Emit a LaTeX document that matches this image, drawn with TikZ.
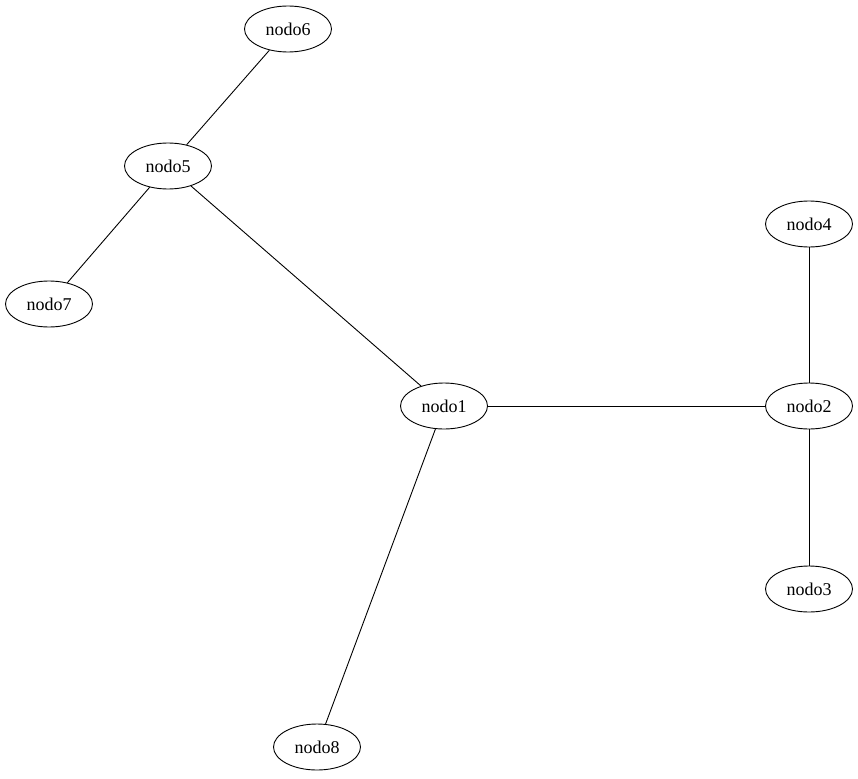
\documentclass[tikz,border=0pt]{standalone}
\usepackage{fontspec}
\setmainfont{Liberation Serif}
\usetikzlibrary{shapes.geometric}
\begin{document}
\begin{tikzpicture}[x=1pt,y=-1pt,
  nd/.style={ellipse,draw,line width=0.9pt,minimum width=87pt,minimum height=46pt,inner sep=0pt,font=\fontsize{18}{20}\selectfont},
  ed/.style={line width=0.9pt}]
\useasboundingbox (0,0) rectangle (858,778);
\node[nd] (n6) at (288,29) {nodo6};
\node[nd] (n5) at (168,166) {nodo5};
\node[nd] (n7) at (49,304) {nodo7};
\node[nd] (n1) at (444,406) {nodo1};
\node[nd] (n2) at (809,406) {nodo2};
\node[nd] (n4) at (809,224) {nodo4};
\node[nd] (n3) at (809,589) {nodo3};
\node[nd] (n8) at (317,747) {nodo8};
\draw[ed] (n5) -- (n6);
\draw[ed] (n5) -- (n7);
\draw[ed] (n5) -- (n1);
\draw[ed] (n1) -- (n2);
\draw[ed] (n2) -- (n4);
\draw[ed] (n2) -- (n3);
\draw[ed] (n1) -- (n8);
\end{tikzpicture}
\end{document}
